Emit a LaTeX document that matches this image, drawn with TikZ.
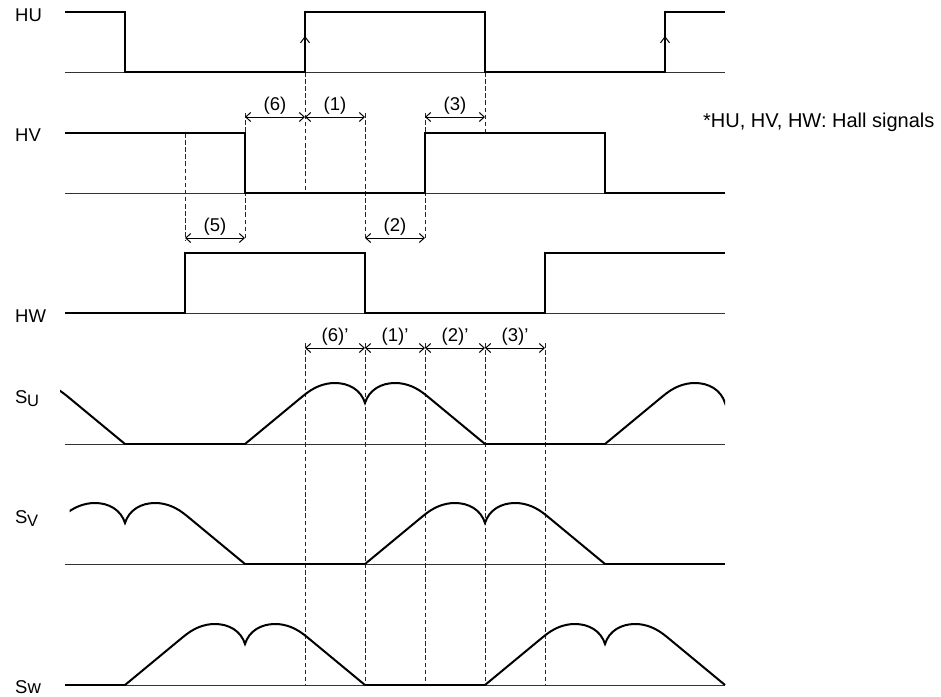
\documentclass[tikz,border=0pt]{standalone}
\usepackage{fontspec}
\setmainfont{Liberation Sans}
\usetikzlibrary{arrows.meta}
\newcommand\emfhump[2]{%
  \draw[sig, shift={(#1,#2)}] (-120,0) -- (-62,-48)
    .. controls (-52,-56.3) and (-42,-61) .. (-30,-61)
    .. controls (-16,-61) and (-4,-54) .. (0,-41)
    .. controls (4,-54) and (16,-61) .. (30,-61)
    .. controls (42,-61) and (52,-56.3) .. (62,-48) -- (120,0);}
\begin{document}
\begin{tikzpicture}[x=1pt,y=-1pt,
  sig/.style={line width=2pt, line join=miter},
  base/.style={line width=0.9pt, black!80},
  guide/.style={line width=1pt, dash pattern=on 4.5pt off 2.6pt, black!85},
  dim/.style={line width=1pt, {Straight Barb[length=5pt,width=9pt]}-{Straight Barb[length=5pt,width=9pt]}},
  edgemark/.style={line width=1pt, -{Straight Barb[length=6pt,width=9pt]}},
  lbl/.style={font=\fontsize{18.5}{20}\selectfont, inner sep=0pt, anchor=base west},
  dimlbl/.style={font=\fontsize{18.5}{20}\selectfont, inner sep=0pt, anchor=base, yshift=7pt},
  subs/.style={font=\fontsize{16.5}{18}\selectfont, inner sep=0pt, anchor=base west},
]
\useasboundingbox (0,0) rectangle (941,696);

% grid coordinates for the dimension arrows
\foreach \i/\x in {0/65,1/125,2/185,3/245,4/305,5/365,6/425,7/485,8/545,9/605,10/665,11/725}{
  \coordinate (A\i) at (\x,117);
  \coordinate (B\i) at (\x,238);
  \coordinate (C\i) at (\x,348);
}

% labels
\node[lbl] (lhu) at (15,21) {HU};
\node[lbl] (lhv) at (15,141) {HV};
\node[lbl] (lhw) at (15,322) {HW};
\node[lbl] (lsu) at (15,403) {S};
\node[subs] (lsu2) at (27,406) {U};
\node[lbl] (lsv) at (15,523) {S};
\node[subs] (lsv2) at (27,526) {V};
\node[lbl] (lsw) at (15,693) {Sw};
\node[font=\fontsize{20}{22}\selectfont, inner sep=0pt, anchor=base west] (note) at (703,127.7) {*HU, HV, HW: Hall signals};

% thin base lines
\foreach \y in {72,193,313,444,564,685}{
  \draw[base] (65,\y) -- (725,\y);
}

% dashed guide lines
\draw[guide] (185,133) -- (185,240);
\draw[guide] (245,113) -- (245,240);
\draw[guide] (305,72) -- (305,193);
\draw[guide] (365,113) -- (365,240);
\draw[guide] (425,113) -- (425,240);
\draw[guide] (485,72) -- (485,133);
\foreach \x in {305,365,425,485,545}{
  \draw[guide] (\x,343) -- (\x,685);
}

% Hall signals
\draw[sig] (65,12) -- (125,12) -- (125,72) -- (305,72) -- (305,12) -- (485,12) -- (485,72) -- (665,72) -- (665,12) -- (725,12);
\draw[sig] (65,133) -- (245,133) -- (245,193) -- (425,193) -- (425,133) -- (605,133) -- (605,193) -- (725,193);
\draw[sig] (65,313) -- (185,313) -- (185,253) -- (365,253) -- (365,313) -- (545,313) -- (545,253) -- (725,253);
\draw[edgemark] (305,52) -- (305,36);
\draw[edgemark] (665,52) -- (665,36);

% Su
\begin{scope}
  \clip (60,300) rectangle (725.2,460);
  \emfhump{5}{444}
  \draw[sig] (125,444) -- (245,444);
  \emfhump{365}{444}
  \draw[sig] (485,444) -- (605,444);
  \emfhump{725}{444}
\end{scope}
% Sv
\begin{scope}
  \clip (69.5,470) rectangle (726,580);
  \emfhump{125}{564}
  \draw[sig] (245,564) -- (365,564);
  \emfhump{485}{564}
  \draw[sig] (605,564) -- (725,564);
\end{scope}
% Sw
\draw[sig] (65,685) -- (125,685);
\emfhump{245}{685}
\draw[sig] (365,685) -- (485,685);
\emfhump{605}{685}

% dimension arrows
\draw[dim] (A3) -- node[dimlbl] (d6) {(6)} (A4);
\draw[dim] (A4) -- node[dimlbl] (d1) {(1)} (A5);
\draw[dim] (A6) -- node[dimlbl] (d3) {(3)} (A7);
\draw[dim] (B2) -- node[dimlbl] (d5) {(5)} (B3);
\draw[dim] (B5) -- node[dimlbl] (d2) {(2)} (B6);
\draw[dim] (C4) -- node[dimlbl] (e6) {(6)’} (C5);
\draw[dim] (C5) -- node[dimlbl] (e1) {(1)’} (C6);
\draw[dim] (C6) -- node[dimlbl] (e2) {(2)’} (C7);
\draw[dim] (C7) -- node[dimlbl] (e3) {(3)’} (C8);
\end{tikzpicture}
\end{document}
